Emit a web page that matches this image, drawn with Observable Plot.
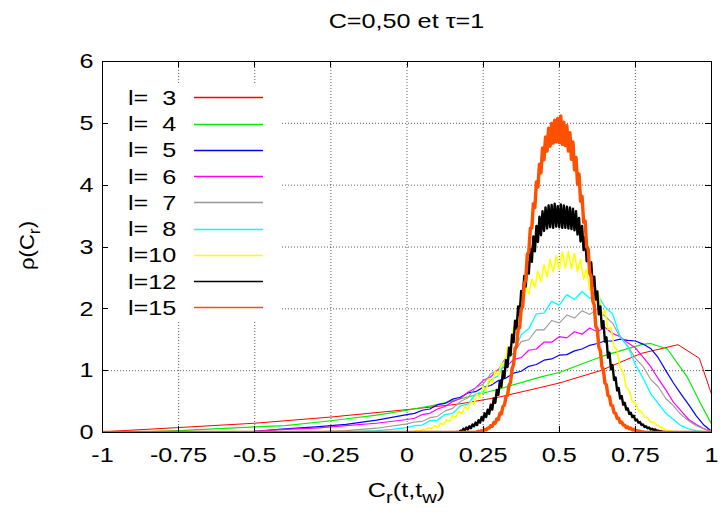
<!DOCTYPE html>
<html><head><meta charset="utf-8">
<script src="https://cdn.jsdelivr.net/npm/d3@7"></script>
<script src="https://cdn.jsdelivr.net/npm/@observablehq/plot@0.6"></script>
<style>
body{margin:0;background:#fff;}
#chart svg text{white-space:pre;}
</style></head><body><div id="chart"></div>
<script>
// ---------- texts ----------
const title = "C=0,50 et τ=1";
const legendLabels = ["l=  3","l=  4","l=  5","l=  6","l=  7","l=  8","l=10","l=12","l=15"];
const colors = ["#ff0000","#00ee00","#0000ff","#ff00ff","#999999","#00ffff","#ffff00","#000000","#ff4f00"];
const widths = [1, 1.2, 1.2, 1.2, 1.1, 1.3, 1.6, 2.4, 3.4];
const xTicks = [-1,-0.75,-0.5,-0.25,0,0.25,0.5,0.75,1];
const xTickLabels = ["-1","-0.75","-0.5","-0.25","0","0.25","0.5","0.75","1"];
const yTicks = [0,1,2,3,4,5,6];
const yTickLabels = ["0","1","2","3","4","5","6"];

// ---------- data: [C_r, rho] ----------
const l3 = [[-1,0],[-0.97,0.02],[-0.75,0.08],[-0.5,0.15],[-0.25,0.25],[0,0.37],[0.17,0.46],[0.3,0.57],[0.44,0.73],[0.5,0.80],[0.635,1.0],[0.77,1.28],[0.89,1.42],[0.96,1.2],[1,0.62]];
const l4 = [[-1,0],[-0.95,0],[-0.75,0.03],[-0.5,0.09],[-0.4,0.11],[-0.25,0.19],[-0.1,0.28],[0,0.36],[0.1,0.45],[0.18,0.55],[0.3,0.7],[0.44,0.9],[0.5,0.97],[0.58,1.12],[0.64,1.23],[0.7,1.32],[0.77,1.42],[0.8,1.44],[0.855,1.35],[0.92,0.9],[0.964,0.47],[1,0.14]];
const l5 = [[-1,0],[-0.8,0],[-0.6,0.01],[-0.5,0.02],[-0.4,0.06],[-0.3,0.09],[-0.2,0.13],[-0.1,0.20],[0,0.29],[0.025,0.31],[0.05,0.36],[0.075,0.38],[0.1,0.45],[0.125,0.47],[0.15,0.54],[0.175,0.57],[0.2,0.64],[0.225,0.66],[0.25,0.73],[0.275,0.76],[0.3,0.84],[0.325,0.88],[0.35,0.96],[0.375,0.99],[0.4,1.07],[0.425,1.10],[0.45,1.17],[0.475,1.19],[0.5,1.25],[0.525,1.26],[0.55,1.32],[0.575,1.35],[0.6,1.41],[0.625,1.44],[0.65,1.48],[0.675,1.48],[0.7,1.51],[0.725,1.49],[0.75,1.48],[0.775,1.43],[0.8,1.36],[0.825,1.21],[0.85,1.00],[0.875,0.80],[0.9,0.62],[0.925,0.45],[0.95,0.27],[0.975,0.12],[1,0.02]];
const l6 = [[-1,0],[-0.7,0],[-0.5,0.02],[-0.4,0.05],[-0.3,0.07],[-0.2,0.11],[-0.1,0.15],[0,0.21],[0.025,0.23],[0.05,0.29],[0.075,0.31],[0.1,0.38],[0.125,0.42],[0.15,0.50],[0.175,0.55],[0.2,0.65],[0.225,0.72],[0.25,0.84],[0.275,0.90],[0.3,1.02],[0.325,1.06],[0.35,1.18],[0.375,1.21],[0.4,1.33],[0.425,1.35],[0.45,1.46],[0.475,1.46],[0.5,1.55],[0.525,1.53],[0.55,1.63],[0.575,1.59],[0.6,1.69],[0.625,1.63],[0.65,1.70],[0.675,1.60],[0.7,1.55],[0.725,1.45],[0.75,1.37],[0.775,1.22],[0.8,1.07],[0.825,0.87],[0.85,0.69],[0.875,0.49],[0.9,0.35],[0.925,0.21],[0.95,0.13],[0.975,0.06],[1,0.02]];
const l7 = [[-1,0],[-0.4,0],[-0.3,0.01],[-0.2,0.03],[-0.1,0.07],[0,0.14],[0.025,0.17],[0.05,0.18],[0.075,0.24],[0.1,0.26],[0.125,0.35],[0.15,0.39],[0.175,0.50],[0.2,0.56],[0.225,0.72],[0.25,0.78],[0.275,0.95],[0.3,1.02],[0.325,1.22],[0.35,1.28],[0.375,1.47],[0.4,1.50],[0.425,1.66],[0.45,1.66],[0.475,1.81],[0.5,1.77],[0.525,1.90],[0.55,1.85],[0.575,1.97],[0.6,1.91],[0.625,2.00],[0.65,1.88],[0.675,1.77],[0.7,1.54],[0.725,1.40],[0.75,1.20],[0.775,1.07],[0.8,0.86],[0.825,0.74],[0.85,0.55],[0.875,0.43],[0.9,0.29],[0.925,0.19],[0.95,0.11],[0.975,0.06],[1,0.02]];
const l8 = [[-1,0],[-0.3,0],[-0.2,0.01],[-0.1,0.03],[-0.05,0.05],[0,0.08],[0.025,0.11],[0.05,0.12],[0.075,0.19],[0.1,0.20],[0.125,0.29],[0.15,0.31],[0.175,0.43],[0.2,0.46],[0.225,0.62],[0.25,0.66],[0.275,0.85],[0.3,0.92],[0.325,1.17],[0.35,1.28],[0.375,1.58],[0.4,1.68],[0.425,1.92],[0.45,1.93],[0.475,2.12],[0.5,2.06],[0.525,2.23],[0.55,2.15],[0.575,2.28],[0.6,2.17],[0.625,2.24],[0.65,2.03],[0.675,1.92],[0.7,1.55],[0.725,1.39],[0.75,1.10],[0.775,0.88],[0.8,0.63],[0.825,0.47],[0.85,0.31],[0.875,0.21],[0.9,0.11],[0.925,0.06],[0.95,0.03],[0.975,0.01],[1,0]];
// dense histograms: first bin, bin width, values
const l10Start = 0.0, l10Step = 0.01;
const l10 = [0.00,0.01,0.00,0.03,0.02,0.05,0.04,0.08,0.06,0.11,
0.08,0.15,0.13,0.21,0.18,0.28,0.24,0.34,0.30,0.42,
0.37,0.50,0.46,0.62,0.57,0.74,0.69,0.87,0.80,0.99,
0.92,1.12,1.09,1.38,1.38,1.70,1.74,2.11,2.06,2.35,
2.24,2.48,2.35,2.61,2.44,2.72,2.52,2.80,2.60,2.86,
2.64,2.92,2.66,2.93,2.65,2.90,2.60,2.80,2.48,2.64,
2.30,2.45,2.11,2.23,1.90,1.98,1.67,1.70,1.38,1.34,
1.04,0.98,0.73,0.68,0.50,0.48,0.35,0.34,0.25,0.24,
0.17,0.17,0.12,0.10,0.06,0.05,0.03,0.02,0.01,0.00];
const l12Start = 0.16, l12Step = 0.005;
const l12 = [0.00,0.01,0.00,0.03,0.02,0.06,0.04,0.08,0.05,0.10,
0.07,0.13,0.10,0.16,0.12,0.20,0.16,0.25,0.20,0.31,
0.25,0.37,0.30,0.45,0.37,0.55,0.48,0.69,0.61,0.83,
0.74,0.99,0.89,1.17,1.06,1.37,1.25,1.58,1.46,1.81,
1.68,2.04,1.90,2.29,2.13,2.53,2.36,2.76,2.57,2.97,
2.76,3.17,2.93,3.34,3.08,3.49,3.19,3.58,3.26,3.64,
3.30,3.67,3.32,3.68,3.31,3.70,3.33,3.66,3.32,
3.69,3.31,3.67,3.31,3.65,3.30,3.64,3.29,3.62,3.27,
3.58,3.20,3.47,3.09,3.34,2.95,3.16,2.77,2.96,2.58,
2.75,2.37,2.52,2.15,2.28,1.91,2.04,1.69,1.80,1.47,
1.54,1.21,1.29,1.02,1.09,0.85,0.89,0.68,0.72,0.55,
0.59,0.45,0.48,0.37,0.39,0.30,0.32,0.25,0.27,0.20,
0.21,0.16,0.17,0.12,0.13,0.09,0.10,0.07,0.08,0.05,
0.06,0.04,0.05,0.03,0.03,0.02,0.02,0.01,0.01,0.00];
const l15Start = 0.225, l15Step = 0.005;
const l15 = [0.00,0.01,0.02,0.01,0.03,0.02,0.05,0.04,0.07,0.07,
0.11,0.10,0.16,0.15,0.22,0.21,0.31,0.30,0.42,0.44,
0.58,0.60,0.76,0.81,1.03,1.10,1.36,1.40,1.67,1.70,
1.99,2.04,2.40,2.47,2.88,2.92,3.30,3.31,3.70,3.64,
4.05,3.97,4.34,4.20,4.60,4.41,4.78,4.55,4.92,4.63,
5.00,4.68,5.05,4.70,5.08,4.69,5.12,4.66,5.02,4.64,
4.96,4.55,4.85,4.42,4.70,4.25,4.45,4.02,4.18,3.74,
3.82,3.40,3.42,3.00,2.97,2.58,2.52,2.13,2.06,1.72,
1.67,1.38,1.32,1.07,1.01,0.80,0.77,0.60,0.58,0.44,
0.43,0.32,0.31,0.23,0.23,0.16,0.17,0.12,0.12,0.08,
0.09,0.06,0.07,0.04,0.05,0.03,0.03,0.02,0.02,0.01,
0.01,0.00];
const xEnds = [-1, 1];

// ---------- build tables ----------
const fromPairs = p => p.map(([x, y]) => ({x, y}));
const fromBins = (start, step, ys) => [
  {x: xEnds[0], y: 0},
  ...ys.map((y, i) => ({x: +(start + i * step).toFixed(4), y})),
  {x: xEnds[1], y: 0}
];
const seriesData = [
  fromPairs(l3), fromPairs(l4), fromPairs(l5), fromPairs(l6), fromPairs(l7), fromPairs(l8),
  fromBins(l10Start, l10Step, l10), fromBins(l12Start, l12Step, l12), fromBins(l15Start, l15Step, l15)
];

const FS = 21;
const STRETCH = 1.2;

// white opaque key background
function keyBox(index, scales, values, d) {
  const g = d3.create("svg:g");
  g.append("rect").attr("x", d.marginLeft + 1).attr("y", d.marginTop + 23)
    .attr("width", 177).attr("height", 237).attr("fill", "white");
  return g.node();
}
// inward ticks on all four sides
function tickMarks(index, {x, y}, values, d) {
  const g = d3.create("svg:g").attr("stroke", "black").attr("stroke-width", 1);
  const top = d.marginTop, bottom = d.height - d.marginBottom;
  const left = d.marginLeft, right = d.width - d.marginRight;
  const L = 6;
  for (const v of xTicks) {
    const px = Math.round(x(v)) + 0.5;
    g.append("line").attr("x1", px).attr("x2", px).attr("y1", bottom).attr("y2", bottom - L);
    g.append("line").attr("x1", px).attr("x2", px).attr("y1", top).attr("y2", top + L);
  }
  for (const v of yTicks) {
    const py = Math.round(y(v)) + 0.5;
    g.append("line").attr("y1", py).attr("y2", py).attr("x1", left).attr("x2", left + L);
    g.append("line").attr("y1", py).attr("y2", py).attr("x1", right).attr("x2", right - L);
  }
  return g.node();
}
// key entries
function keyEntries(index, scales, values, d) {
  const g = d3.create("svg:g");
  legendLabels.forEach((lab, i) => {
    const cy = d.marginTop + 36.3 + i * 26.25;
    g.append("text").attr("x", d.marginLeft + 26).attr("y", cy).attr("dy", "0.36em")
      .attr("text-anchor", "start").attr("fill", "black").text(lab);
    g.append("line").attr("x1", d.marginLeft + 92).attr("x2", d.marginLeft + 161)
      .attr("y1", Math.round(cy) + 0.5).attr("y2", Math.round(cy) + 0.5)
      .attr("stroke", colors[i]).attr("stroke-width", 1.3);
  });
  return g.node();
}
// title and axis labels
function labels(index, scales, values, d) {
  const g = d3.create("svg:g").attr("fill", "black");
  const cx = (d.marginLeft + d.width - d.marginRight) / 2;
  const cy = (d.marginTop + d.height - d.marginBottom) / 2;
  g.append("text").attr("x", cx).attr("y", d.marginTop - 33).attr("text-anchor", "middle").text(title);
  const xl = g.append("text").attr("x", cx).attr("y", d.height - 20).attr("text-anchor", "middle");
  xl.append("tspan").text("C");
  xl.append("tspan").attr("dy", 6).attr("font-size", "0.8em").text("r");
  xl.append("tspan").attr("dy", -6).text("(t,t");
  xl.append("tspan").attr("dy", 6).attr("font-size", "0.8em").text("w");
  xl.append("tspan").attr("dy", -6).text(")");
  const yl = g.append("text").attr("class", "ylab").attr("text-anchor", "middle")
    .attr("transform", `translate(34,${cy - 1}) rotate(-90)`);
  yl.append("tspan").text("ρ(C");
  yl.append("tspan").attr("dy", 6).attr("font-size", "0.8em").text("r");
  yl.append("tspan").attr("dy", -6).text(")");
  return g.node();
}

const marks = [
  Plot.ruleX(xTicks.slice(1, -1), {stroke: "#333", strokeOpacity: 0.8, strokeDasharray: "1,2"}),
  Plot.ruleY(yTicks.slice(1, -1), {stroke: "#333", strokeOpacity: 0.8, strokeDasharray: "1,2"}),
  keyBox,
  ...seriesData.map((data, i) => Plot.line(data, {x: "x", y: "y", stroke: colors[i], strokeWidth: widths[i], clip: true})),
  Plot.frame({stroke: "black"}),
  tickMarks,
  keyEntries,
  Plot.axisX(xTicks, {tickSize: 0, tickPadding: 15, tickFormat: d => xTickLabels[xTicks.indexOf(d)], label: null}),
  Plot.axisY(yTicks, {tickSize: 0, tickPadding: 9, tickFormat: d => yTickLabels[yTicks.indexOf(d)], label: null}),
  labels
];

const chart = Plot.plot({
  width: 723, height: 517,
  marginLeft: 102, marginRight: 12, marginTop: 61, marginBottom: 85,
  x: {domain: [-1, 1]},
  y: {domain: [0, 6]},
  style: {fontFamily: "'Liberation Sans', Arial, sans-serif", fontSize: FS + "px", background: "white", color: "black"},
  marks
});
document.getElementById("chart").append(chart);
chart.querySelectorAll("text").forEach(t => {
  const len = t.getComputedTextLength();
  const k = t.classList.contains("ylab") ? 1.05 : STRETCH;
  if (len > 0) { t.setAttribute("textLength", (len * k).toFixed(1)); t.setAttribute("lengthAdjust", "spacingAndGlyphs"); }
});
</script></body></html>
